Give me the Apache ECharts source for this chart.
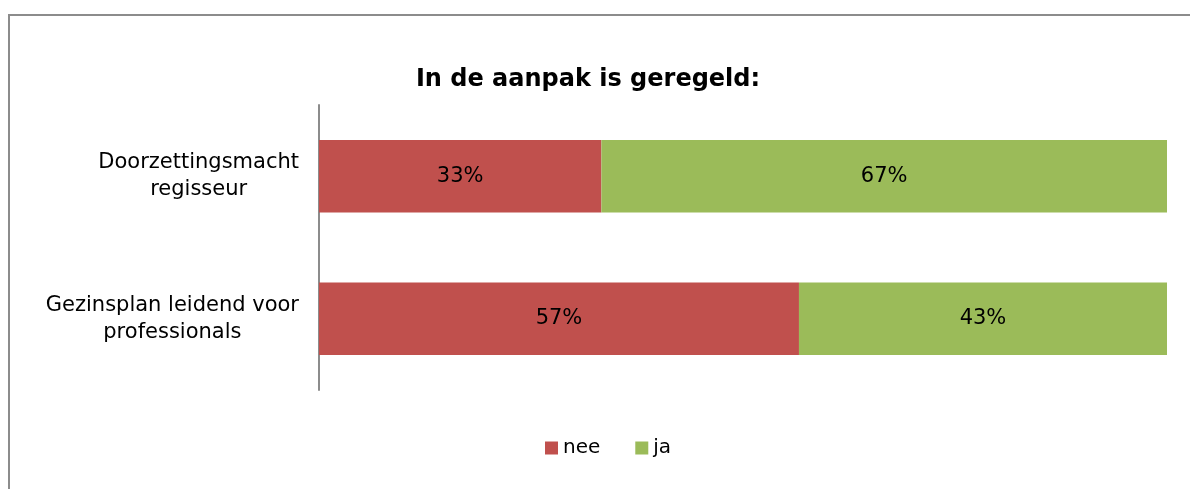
<!DOCTYPE html>
<html>
<head>
<meta charset="utf-8">
<script src="https://cdn.jsdelivr.net/npm/echarts@6/dist/echarts.min.js"></script>
<style>
  html, body { margin: 0; padding: 0; background: #fff; }
  #chart { width: 1190px; height: 489px; }
</style>
</head>
<body>
<div id="chart"></div>
<script>
const categories = ['Doorzettingsmacht\nregisseur', 'Gezinsplan leidend voor\nprofessionals']
const nee = [33.3, 56.6]
const ja = [66.7, 43.4]

const font = 'DejaVu Sans, Verdana, sans-serif'
const chart = echarts.init(document.getElementById('chart'))

const barLabel = {
    show: true,
    position: 'inside',
    color: '#000',
    fontFamily: font,
    fontSize: 21,
    formatter: p => Math.round(p.value) + '%'
}

chart.setOption({
    animation: false,
    title: {
        text: 'In de aanpak is geregeld:',
        left: 583,
        top: 63,
        textAlign: 'center',
        textStyle: { fontFamily: font, fontSize: 24, fontWeight: 'bold', color: '#000' }
    },
    // chart border (runs past right and bottom edges)
    graphic: [{
        type: 'rect',
        shape: { x: 9, y: 15, width: 1200, height: 500 },
        style: { fill: 'none', stroke: '#8c8c8c', lineWidth: 2 },
        silent: true
    }],
    legend: {
        top: 433,
        left: 540,
        itemWidth: 13,
        itemHeight: 13,
        itemGap: 35,
        icon: 'rect',
        textStyle: { fontFamily: font, fontSize: 20, color: '#000', padding: [0, 0, 0, 0] },
        data: ['nee', 'ja']
    },
    grid: { left: 319, right: 23, top: 105, bottom: 99, containLabel: false },
    xAxis: {
        type: 'value',
        min: 0,
        max: 100,
        show: false
    },
    yAxis: {
        type: 'category',
        inverse: true,
        data: categories,
        axisLine: { lineStyle: { color: '#8c8c8c', width: 2 } },
        axisTick: { show: false },
        axisLabel: {
            margin: 20,
            align: 'right',
            color: '#000',
            // each line centred inside the right-aligned block
            formatter: v => v.split('\n').map(s => '{c|' + s + '}').join('\n'),
            rich: {
                c: { align: 'center', fontFamily: font, fontSize: 21, lineHeight: 27, color: '#000' }
            }
        }
    },
    series: [
        { name: 'nee', type: 'bar', stack: 'x', data: nee, barCategoryGap: '49%', itemStyle: { color: '#C0504D' }, label: barLabel },
        { name: 'ja', type: 'bar', stack: 'x', data: ja, itemStyle: { color: '#9BBB59' }, label: barLabel }
    ]
})
</script>
</body>
</html>
